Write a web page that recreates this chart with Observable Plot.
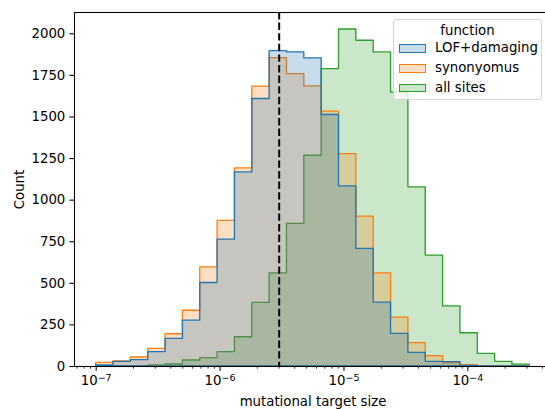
<!DOCTYPE html>
<html>
<head>
<meta charset="utf-8">
<script src="https://cdn.jsdelivr.net/npm/d3@7"></script>
<script src="https://cdn.jsdelivr.net/npm/@observablehq/plot@0.6"></script>
<style>
  body { margin: 0; background: #fff; font-family: "DejaVu Sans", sans-serif; }
  #wrap { position: relative; width: 545px; height: 409px; overflow: hidden; }
  #legend { position: absolute; left: 393px; top: 19px; width: 149px; height: 81px;
    border: 1px solid #d4d4d4; border-radius: 3px; background: rgba(255,255,255,0.8);
    box-sizing: border-box; font-family: "DejaVu Sans", sans-serif; font-size: 13.3px; color: #000; line-height: 1; }
  #legend .title { position: absolute; left: 0; width: 100%; top: 4px; text-align: center; }
  #legend .sw { position: absolute; left: 5px; width: 27px; height: 8.5px; box-sizing: border-box; border: 1.3px solid; }
  #legend .lb { position: absolute; left: 41px; white-space: nowrap; }
</style>
</head>
<body>
<div id="wrap"></div>
<script>
// ---- data ----
const seriesNames = ["LOF+damaging", "synonyomus", "all sites"];
const seriesColors = ["#1f77b4", "#ff7f0e", "#2ca02c"];
const logBinStart = -7;      // log10 of first bin edge
const logBinWidth = 0.14;    // bin width in decades
const nBins = 25;
const lofCounts = [6, 28, 38, 86, 166, 276, 502, 763, 1167, 1608, 1896, 1888, 1852, 1512, 1083, 707, 384, 196, 82, 28, 26, 3, 1, 0, 0];
const synCounts = [22, 30, 54, 106, 194, 335, 596, 875, 1191, 1682, 1854, 1758, 1684, 1532, 1277, 901, 560, 294, 141, 62, 20, 8, 2, 1, 0];
const allCounts = [0, 0, 1, 6, 12, 36, 50, 86, 176, 382, 560, 857, 1267, 1788, 2026, 1958, 1888, 1647, 1077, 667, 361, 200, 76, 28, 11];
const refLine = 3e-6;
const xMajorTicks = [1e-7, 1e-6, 1e-5, 1e-4];
const xMajorLabels = ["10^−7", "10^−6", "10^−5", "10^−4"];
const yTicks = [0, 250, 500, 750, 1000, 1250, 1500, 1750, 2000];

// ---- build tables ----
const edges = d3.range(nBins + 1).map(k => Math.pow(10, logBinStart + k * logBinWidth));
function stepTable(counts) {
  const rows = counts.map((c, i) => ({x: edges[i], y: c}));
  rows.push({x: edges[nBins], y: counts[nBins - 1]});
  return rows;
}
const tables = [stepTable(lofCounts), stepTable(synCounts), stepTable(allCounts)];
const minorTicks = [];
for (let e = -8; e <= -3; e++) for (let m = 2; m <= 9; m++) minorTicks.push(m * Math.pow(10, e));

const xDomain = [Math.pow(10, -7.175), Math.pow(10, -3.325)];
const yDomain = [0, 2128];

const areaMarks = [];
for (let s = 2; s >= 0; s--) {
  areaMarks.push(Plot.areaY(tables[s], {
    x: "x", y: "y", curve: "step-after",
    fill: seriesColors[s], fillOpacity: 0.25,
    stroke: seriesColors[s], strokeWidth: 1.33
  }));
}

const chart = Plot.plot({
  width: 545, height: 409,
  marginLeft: 74, marginRight: -6, marginTop: 12, marginBottom: 43,
  style: {fontFamily: "DejaVu Sans, sans-serif", fontSize: "13.3px", color: "#000", background: "#fff"},
  x: {type: "log", domain: xDomain},
  y: {domain: yDomain},
  marks: [
    ...areaMarks,
    Plot.ruleX([refLine], {stroke: "#000", strokeWidth: 2, strokeDasharray: "7.4,3.2"}),
    Plot.frame({stroke: "#000", strokeWidth: 1.07}),
    Plot.axisX(minorTicks.filter(t => t >= xDomain[0] && t <= xDomain[1]), {tickSize: 2.67, tickFormat: () => "", label: null, strokeWidth: 0.8}),
    Plot.axisX(xMajorTicks, {tickSize: 4.67, tickPadding: 4.5, strokeWidth: 1.07,
      tickFormat: (d) => xMajorLabels[xMajorTicks.indexOf(d)],
      label: "mutational target size", labelAnchor: "center", labelArrow: "none", labelOffset: 39}),
    Plot.axisY(yTicks, {tickSize: 4.67, tickPadding: 4.5, strokeWidth: 1.07,
      tickFormat: d => String(d),
      label: "Count", labelAnchor: "center", labelArrow: "none", labelOffset: 60})
  ]
});

// superscript exponents in x tick labels
chart.querySelectorAll('g[aria-label="x-axis tick label"] text').forEach(t => {
  const s = t.textContent;
  if (s.includes("^")) {
    const [base, exp] = s.split("^");
    t.textContent = "";
    const ns = "http://www.w3.org/2000/svg";
    const a = document.createElementNS(ns, "tspan"); a.textContent = base;
    const b = document.createElementNS(ns, "tspan"); b.textContent = exp;
    b.setAttribute("dy", "-0.45em"); b.setAttribute("font-size", "9.5px");
    t.appendChild(a); t.appendChild(b);
  }
});

const wrap = document.getElementById("wrap");
wrap.appendChild(chart);

// legend (positions in page pixels: title centre y 29.5, swatch centres 48.5 / 68.5 / 88)
const leg = document.createElement("div");
leg.id = "legend";
let html = '<div class="title">function</div>';
const rowsY = [48.5, 68.5, 88];
const legTop = 19;
seriesNames.forEach((n, i) => {
  const c = d3.color(seriesColors[i]); c.opacity = 0.25;
  html += `<div class="sw" style="top:${rowsY[i] - legTop - 1 - 4.25}px;border-color:${seriesColors[i]};background:${c.formatRgb()}"></div>`;
  html += `<div class="lb" style="top:${rowsY[i] - legTop - 1 - 7.5}px">${n}</div>`;
});
leg.innerHTML = html;
wrap.appendChild(leg);
</script>
</body>
</html>
